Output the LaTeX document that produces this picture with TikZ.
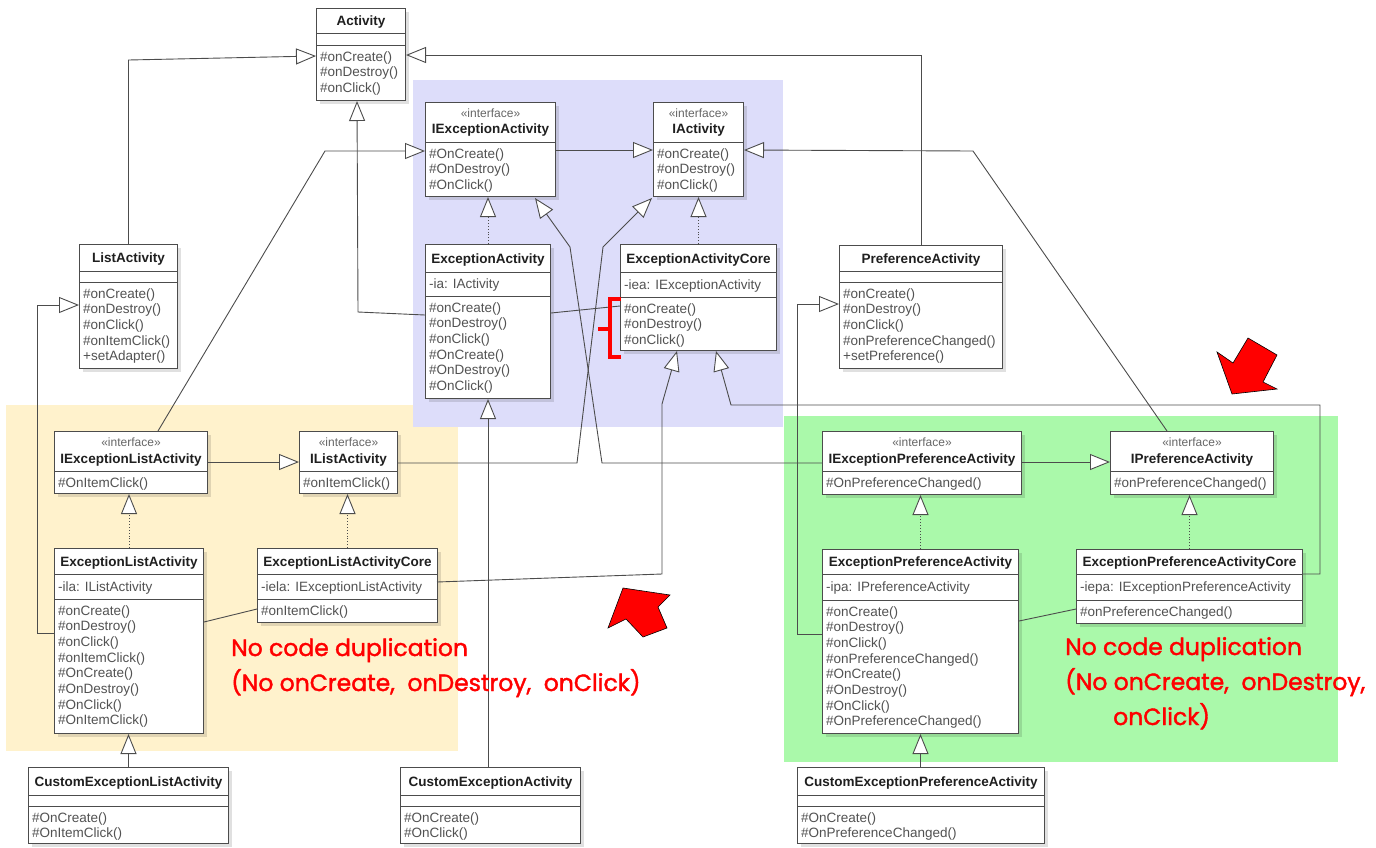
\documentclass[tikz,border=0pt]{standalone}
\usepackage{fontspec}
\setmainfont{Liberation Sans}
\newfontfamily\redfont{Poppins}[FakeBold=1.6]
\usetikzlibrary{arrows.meta,calc,shadows}
\definecolor{bluebg}{RGB}{221,221,250}
\definecolor{yellowbg}{RGB}{255,242,204}
\definecolor{greenbg}{RGB}{170,249,170}
\newcommand\ubox[5]{\node[cls, minimum width=#4pt, minimum height=#5pt, anchor=north west] (#1) at (#2,#3) {};}
\newcommand\usep[2]{\draw[cline] ($(#1.north west)+(0,#2)$) -- ($(#1.north east)+(0,#2)$);}
\newcommand\uttl[3]{\node[ttl] (#1t) at ($(#1.north)+(0,{#2+5})$) {#3};}
\newcommand\ustereo[2]{\node[stereo] (#1s) at ($(#1.north)+(0,{#2+4})$) {«interface»};}
\newcommand\uattr[3]{\node[mem] (#1a) at ($(#1.north west)+(4,{#2+4.85})$) {#3};}
\newcommand\umeth[3]{\foreach \mtxt [count=\mi] in {#3} {\node[mem] (#1m\mi) at ($(#1.north west)+(4,{#2+0.3+\mi*15.7})$) {\mtxt};}}
\begin{document}
\begin{tikzpicture}[x=1pt,y=-1pt,
  cls/.style={draw=black!70, line width=1pt, fill=white, inner sep=0pt,
    drop shadow={shadow xshift=3pt, shadow yshift=-3pt, fill=black, opacity=0.12}},
  cline/.style={draw=black!70, line width=0.9pt},
  ttl/.style={font=\fontsize{13.5}{16}\selectfont\bfseries, text=black!88, inner sep=0pt, anchor=base},
  stereo/.style={font=\fontsize{12}{14}\selectfont, text=black!60, inner sep=0pt, anchor=base},
  mem/.style={font=\fontsize{13.5}{16}\selectfont, text=black!68, inner sep=0pt, anchor=base west},
  conn/.style={draw=black!70, line width=0.9pt},
  gen/.style={conn, -{Triangle[length=20pt, width=16pt, fill=white, line width=0.9pt]}},
  real/.style={gen, dotted},
  redtxt/.style={font=\redfont\fontsize{23.5}{28}\selectfont, text=red, inner sep=0pt, anchor=base west},
  bigarrow/.style={fill=red, draw=black, line width=0.6pt, line join=miter},
  bracket/.style={draw=red, line width=3.5pt, line join=miter}
]
\useasboundingbox (0,0) rectangle (1376,847);
% background groups
\fill[yellowbg] (6,405) rectangle (458,751);
\fill[bluebg] (413,80) rectangle (783,427);
\fill[greenbg] (784,416) rectangle (1338,762);

% classes
\ubox{act}{316}{8}{89}{92} \usep{act}{25} \usep{act}{37}
\uttl{act}{12.5}{Activity}
\umeth{act}{37}{\#onCreate(),\#onDestroy(),\#onClick()}

\ubox{iea}{425}{102}{130}{94} \usep{iea}{40}
\ustereo{iea}{11} \uttl{iea}{26}{IExceptionActivity}
\umeth{iea}{40}{\#OnCreate(),\#OnDestroy(),\#OnClick()}

\ubox{ia}{653}{102}{90}{94} \usep{ia}{40}
\ustereo{ia}{11} \uttl{ia}{26}{IActivity}
\umeth{ia}{40}{\#onCreate(),\#onDestroy(),\#onClick()}

\ubox{la}{79}{244}{98}{124} \usep{la}{27} \usep{la}{38}
\uttl{la}{13.5}{ListActivity}
\umeth{la}{38}{\#onCreate(),\#onDestroy(),\#onClick(),\#onItemClick(),+setAdapter()}

\ubox{ea}{425}{244}{125}{154} \usep{ea}{28} \usep{ea}{52}
\uttl{ea}{14}{ExceptionActivity}
\uattr{ea}{40}{-ia: IActivity}
\umeth{ea}{52}{\#onCreate(),\#onDestroy(),\#onClick(),\#OnCreate(),\#OnDestroy(),\#OnClick()}

\ubox{eac}{620}{244}{156}{106} \usep{eac}{28} \usep{eac}{53}
\uttl{eac}{14}{ExceptionActivityCore}
\uattr{eac}{40.5}{-iea: IExceptionActivity}
\umeth{eac}{53}{\#onCreate(),\#onDestroy(),\#onClick()}

\ubox{pa}{839}{245}{163}{123} \usep{pa}{26} \usep{pa}{37}
\uttl{pa}{13}{PreferenceActivity}
\umeth{pa}{37}{\#onCreate(),\#onDestroy(),\#onClick(),\#onPreferenceChanged(),+setPreference()}

\ubox{iela}{54}{431}{153}{62} \usep{iela}{40}
\ustereo{iela}{11} \uttl{iela}{27}{IExceptionListActivity}
\umeth{iela}{40}{\#OnItemClick()}

\ubox{ila}{299}{431}{98}{62} \usep{ila}{40}
\ustereo{ila}{11} \uttl{ila}{27}{IListActivity}
\umeth{ila}{40}{\#onItemClick()}

\ubox{iepa}{822}{431}{199}{63} \usep{iepa}{40}
\ustereo{iepa}{11} \uttl{iepa}{27}{IExceptionPreferenceActivity}
\umeth{iepa}{40}{\#OnPreferenceChanged()}

\ubox{ipa}{1110}{431}{163}{63} \usep{ipa}{40}
\ustereo{ipa}{11} \uttl{ipa}{27}{IPreferenceActivity}
\umeth{ipa}{40}{\#onPreferenceChanged()}

\ubox{ela}{54}{548}{149}{185} \usep{ela}{26} \usep{ela}{51}
\uttl{ela}{13}{ExceptionListActivity}
\uattr{ela}{38.5}{-ila: IListActivity}
\umeth{ela}{51}{\#onCreate(),\#onDestroy(),\#onClick(),\#onItemClick(),\#OnCreate(),\#OnDestroy(),\#OnClick(),\#OnItemClick()}

\ubox{elac}{257}{548}{180}{74} \usep{elac}{26} \usep{elac}{51}
\uttl{elac}{13}{ExceptionListActivityCore}
\uattr{elac}{38.5}{-iela: IExceptionListActivity}
\umeth{elac}{51}{\#onItemClick()}

\ubox{epa}{822}{549}{196}{184} \usep{epa}{25} \usep{epa}{51}
\uttl{epa}{12.5}{ExceptionPreferenceActivity}
\uattr{epa}{38}{-ipa: IPreferenceActivity}
\umeth{epa}{51}{\#onCreate(),\#onDestroy(),\#onClick(),\#onPreferenceChanged(),\#OnCreate(),\#OnDestroy(),\#OnClick(),\#OnPreferenceChanged()}

\ubox{epac}{1076}{549}{226}{74} \usep{epac}{25} \usep{epac}{51}
\uttl{epac}{12.5}{ExceptionPreferenceActivityCore}
\uattr{epac}{38}{-iepa: IExceptionPreferenceActivity}
\umeth{epac}{51}{\#onPreferenceChanged()}

\ubox{cela}{28}{767}{200}{76} \usep{cela}{28} \usep{cela}{39}
\uttl{cela}{14}{CustomExceptionListActivity}
\umeth{cela}{39}{\#OnCreate(),\#OnItemClick()}

\ubox{cea}{400}{767}{180}{76} \usep{cea}{28} \usep{cea}{39}
\uttl{cea}{14}{CustomExceptionActivity}
\umeth{cea}{39}{\#OnCreate(),\#OnClick()}

\ubox{cepa}{797}{767}{247}{76} \usep{cepa}{28} \usep{cepa}{39}
\uttl{cepa}{14}{CustomExceptionPreferenceActivity}
\umeth{cepa}{39}{\#OnCreate(),\#OnPreferenceChanged()}

% generalizations
\draw[gen] (la.north) -- ++(0,-184) -- ($(act.north west)+(0,48)$);
\draw[gen] (pa.north) |- ($(act.north east)+(0,47)$);
\draw[gen] ($(ea.north west)+(0,71)$) -- ++(-67,-3) -- ($(act.south west)+(41,0)$);
\draw[gen] ($(iela.north west)+(104,0)$) -- (325,151) -- ($(iea.north west)+(0,49)$);
\draw[gen] ($(iea.north east)+(0,48)$) -- ($(ia.north west)+(0,48)$);
\draw[gen] ($(ipa.north west)+(57,0)$) -- (973,151) -- ($(ia.north east)+(0,48)$);
\draw[gen] ($(iepa.north west)+(0,32)$) -- (602,463) -- (570,247) -- ($(iea.south east)+(-21,1)$);
\draw[gen] ($(ila.north east)+(0,32)$) -- (577,463) -- (603,247) -- ($(ia.south west)+(-1,1)$);
\draw[gen] ($(elac.north west)+(180,34)$) -- (662,574) -- (662,404) -- ($(eac.south west)+(57,0)$);
\draw[gen] ($(epac.north east)+(0,25)$) -- (1320,574) -- (1320,405) -- (731,405) -- ($(eac.south west)+(96,0)$);
\draw[gen] ($(ela.north west)+(0,85)$) -- ++(-17,0) |- ($(la.north west)+(0,61)$);
\draw[gen] ($(epa.north west)+(0,85)$) -- ++(-25,0) |- ($(pa.north west)+(0,59)$);
\draw[gen] ($(iela.north east)+(0,31)$) -- ($(ila.north west)+(0,31)$);
\draw[gen] ($(iepa.north east)+(0,31)$) -- ($(ipa.north west)+(0,31)$);
\draw[gen] (cela.north) -- (cela.north |- ela.south);
\draw[gen] (ea.south |- cea.north) -- (ea.south);
\draw[gen] (epa.south |- cepa.north) -- (epa.south);
% realizations
\draw[real] (ea.north) -- (ea.north |- iea.south);
\draw[real] (eac.north) -- (eac.north |- ia.south);
\draw[real] (ela.north) -- (ela.north |- iela.south);
\draw[real] (elac.north) -- (elac.north |- ila.south);
\draw[real] (epa.north) -- (epa.north |- iepa.south);
\draw[real] (epac.north) -- (epac.north |- ipa.south);
% associations
\draw[conn] ($(ea.north east)+(0,69)$) -- ($(eac.north west)+(0,62)$);
\draw[conn] ($(ela.north east)+(0,74)$) -- ($(elac.north west)+(0,61)$);
\draw[conn] ($(epa.north east)+(0,72)$) -- ($(epac.north west)+(0,60)$);

% red bracket
\draw[bracket] ($(eac.north west)+(1,55)$) -- ++(-11,0) -- ++(0,58) -- ++(11,0);
\draw[bracket] ($(eac.north west)+(-10,85)$) -- ++(-12,0);

% red arrows
\draw[bigarrow] (1248,338) -- (1277,355) -- (1263,382) -- (1277,389) -- (1232,394) -- (1217,352) -- (1233,363) -- cycle;
\draw[bigarrow] (623,588) -- (670,595) -- (658,607) -- (667,628) -- (643,637) -- (626,619) -- (608,628) -- cycle;

% notes
\node[redtxt] (n1a) at (231,656) {No code duplication};
\node[redtxt] (n1b) at (231,691) {(No onCreate,~~onDestroy,~~onClick)};
\node[redtxt] (n2a) at (1065,655) {No code duplication};
\node[redtxt] (n2b) at (1065,690) {(No onCreate,~~onDestroy,};
\node[redtxt] (n2c) at (1113,725) {onClick)};
\end{tikzpicture}
\end{document}
